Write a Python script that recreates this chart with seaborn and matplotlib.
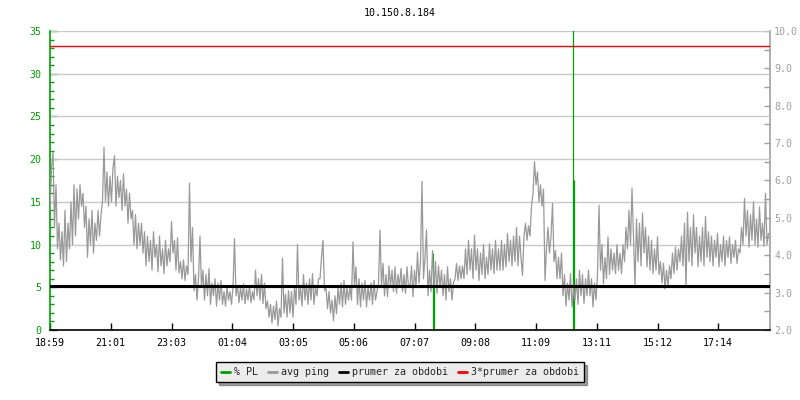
import numpy as np
import pandas as pd
import matplotlib
matplotlib.use("Agg")
import matplotlib.pyplot as plt
from matplotlib.lines import Line2D
from matplotlib.ticker import MultipleLocator, FormatStrFormatter, FixedLocator
import seaborn as sns

# ---------------- data ----------------
title = "10.150.8.184"
tick_labels = ["18:59", "21:01", "23:03", "01:04", "03:05", "05:06",
               "07:07", "09:08", "11:09", "13:11", "15:12", "17:14"]
tick_step_min = 121.5
sample_step_min = 3
total_min = 1440

# avg ping, on the left (0-35) scale, one sample every 3 minutes
avg_ping = [
    14, 19, 20.8, 12, 17, 9.5, 12.5, 8.2, 11.5, 7.5, 14, 8, 12.5, 9.5, 15, 10, 17, 11, 16.5, 13,
    17, 14.5, 16, 12, 14.5, 8.5, 13, 10, 14, 9, 12.5, 10.5, 14, 11, 13.5, 15, 21.4, 15, 18.5, 14.5,
    18, 15, 19, 20.4, 14.5, 18, 15.5, 17.5, 14, 18.3, 14.5, 16.5, 12.5, 16, 13, 14, 10, 13.5, 9.5, 12.5,
    10, 12.5, 9, 11.5, 7.5, 11, 8, 10.5, 7, 11.5, 8.5, 10, 6.8, 11, 7.5, 9.5, 6.6, 10.5, 7.5, 9.5,
    8, 12.7, 9, 10.5, 7, 10.8, 6.7, 8, 6, 8.2, 5.8, 7.5, 6.5, 17.2, 8, 12, 4.6, 6.5, 3.5, 6,
    11, 5, 7, 3.5, 6.5, 4, 7.2, 3, 5.5, 4, 6, 2.8, 5.5, 3.5, 5.8, 3, 4.5, 2.8, 5, 3.5,
    4.5, 3, 5, 10.7, 4, 5.2, 3.2, 5, 3.5, 5.4, 3.1, 4.8, 3.5, 5.2, 3.2, 4.5, 3.5, 7, 4, 6,
    3.5, 6.5, 3.1, 5.5, 2.5, 3.4, 1.5, 3, 0.8, 2.8, 1.2, 3.4, 0.5, 2.5, 1.5, 8.4, 2, 4.2, 1.5, 4.6,
    2, 4.5, 1.5, 5, 3, 10, 3.5, 5, 2.8, 6.5, 3.5, 5.5, 3, 6, 3.5, 6.6, 3, 5, 4, 6,
    6, 8.5, 10.5, 4.6, 5, 2.5, 4.5, 2, 3.5, 1.1, 4, 1.9, 5, 3, 5.5, 2.7, 5.8, 3, 5, 3.5,
    5, 3.5, 10.3, 5, 7.4, 3, 6, 2.7, 5.5, 3.5, 5.8, 2.7, 5, 3.5, 5.5, 3, 5.8, 3.5, 4.5, 5.5,
    11.7, 5, 7.8, 4, 6.5, 3.9, 7.5, 5, 7, 4.5, 7.4, 4.3, 6.5, 5, 7.2, 4.5, 6.5, 4.3, 7.4, 5,
    5, 7.5, 3.9, 7, 5, 9.1, 5.5, 8, 17.4, 6, 8.5, 11.7, 4, 7, 4.5, 9.3, 5, 8, 4.3, 7.5,
    5, 7, 4, 6.5, 3.5, 7.4, 4.5, 6, 3.5, 5.5, 6, 7.8, 5.8, 7.5, 6, 7.5, 6, 9.5, 6.5, 10.5,
    7, 9.5, 6, 11.1, 7, 9.5, 5.8, 9, 6.5, 10, 6, 8.5, 6.5, 10.1, 7, 9.5, 6.6, 10.5, 7, 9.5,
    7, 10.5, 7, 10, 7.4, 11.3, 8, 10.5, 7.5, 11, 8, 12, 7.5, 11, 8.5, 6.4, 11, 12.5, 10.5, 12.2,
    11, 14.5, 16, 19.7, 17, 18.5, 15, 17, 14.5, 16.5, 5.8, 9.5, 12, 9, 11, 14.8, 8, 9.3, 6, 8.5,
    6, 9, 4, 6.5, 2.8, 5.5, 3.5, 6.6, 2.7, 5, 3.5, 6, 3, 7, 4, 6.5, 3.1, 6, 4, 7,
    4, 6, 2.7, 5.5, 3.5, 6.5, 14.6, 7, 10, 5.4, 8.5, 6, 10.9, 6.5, 9.5, 7, 9, 6.6, 10, 7,
    9, 6.6, 10, 8, 12, 9.5, 14, 10, 16.6, 11, 5.2, 13, 8, 12.5, 7.5, 13.7, 9, 12, 7.4, 11,
    7, 10.5, 6.6, 9.5, 7, 10.9, 6.5, 8, 5.5, 7.8, 4.8, 7, 5.1, 7.5, 6, 9, 6.6, 9.7, 7, 9.5,
    8, 11, 7.5, 12.5, 5, 13.8, 8, 12, 7.5, 13.5, 9, 12, 7.4, 11, 8, 12, 7.5, 13.3, 8.5, 11.5,
    8, 11, 7.5, 10.5, 8.5, 11.3, 7.4, 10, 8, 11, 7.5, 10.5, 8.5, 10.9, 7.8, 10, 8.5, 10.5, 7.8, 9.5,
    9, 12, 10, 15.4, 11, 14, 9.7, 13.5, 10.5, 15, 10, 13, 9.7, 14.4, 10.5, 12.5, 9.8, 16, 10, 11.3,
]

# packet loss spikes (minutes from start, % PL)
pl_minutes = [766, 768, 1045, 1047]
pl_values = [9, 6, 100, 17.5]

prumer = 5.15      # average line
prumer3 = 33.3     # 3 * average line

right_ticks = [2.0, 3.0, 4.0, 5.0, 6.0, 7.0, 8.0, 9.0, 10.0]

legend_labels = ["% PL", "avg ping", "prumer za obdobi", "3*prumer za obdobi"]

# ---------------- style ----------------
GREEN = "#00a000"
GRAY = "#999999"
GRID = "#c8c8c8"
RAXIS = "#a0a0a0"
RED = "#ff0000"

sns.set_style("white")
plt.rcParams["font.family"] = ["DejaVu Sans Mono"]
FS = 7.2

df = pd.DataFrame({
    "minute": np.arange(len(avg_ping)) * sample_step_min,
    "ping": avg_ping,
})

fig = plt.figure(figsize=(8, 4), dpi=100)
ax = fig.add_axes([50 / 800, 1 - 330 / 400, 720 / 800, 299 / 400])

ax.set_xlim(0, total_min)
ax.set_ylim(0, 35)

# grid
for y in range(5, 36, 5):
    ax.axhline(y, color=GRID, lw=1, zorder=1)

# packet loss
ax.vlines(pl_minutes, 0, pl_values, color=GREEN, lw=0.9, zorder=2)

# avg ping
sns.lineplot(data=df, x="minute", y="ping", ax=ax, color=GRAY, lw=0.9,
             zorder=3, legend=False)

ax.axhline(prumer, color="black", lw=2.2, zorder=4)
ax.axhline(prumer3, color=RED, lw=1, zorder=4)

ax.set_xlabel("")
ax.set_ylabel("")

# spines
ax.spines["top"].set_visible(False)
ax.spines["right"].set_visible(False)
ax.spines["left"].set_color(GREEN)
ax.spines["left"].set_linewidth(1.2)
ax.spines["bottom"].set_color("black")
ax.spines["bottom"].set_linewidth(1.2)

# x ticks
ax.set_xticks([k * tick_step_min for k in range(len(tick_labels))])
ax.set_xticklabels(tick_labels, fontsize=FS)
ax.tick_params(axis="x", direction="in", length=5, width=1, color="black",
               pad=6, labelcolor="black", bottom=True)

# left y ticks
ax.yaxis.set_major_locator(MultipleLocator(5))
ax.yaxis.set_minor_locator(MultipleLocator(1))
ax.tick_params(axis="y", which="major", direction="in", length=5, width=1,
               color=GREEN, labelcolor=GREEN, labelsize=FS, pad=6, left=True)
ax.tick_params(axis="y", which="minor", direction="in", length=3, width=1,
               color=GREEN, left=True)

# right secondary axis (ms)
sec = ax.secondary_yaxis("right", functions=(lambda v: 2 + v * 8 / 35,
                                             lambda m: (m - 2) * 35 / 8))
sec.spines["right"].set_color(RAXIS)
sec.spines["right"].set_linewidth(1.2)
sec.yaxis.set_major_locator(FixedLocator(right_ticks))
sec.yaxis.set_minor_locator(FixedLocator([t + 0.5 for t in right_ticks[:-1]]))
sec.yaxis.set_major_formatter(FormatStrFormatter("%.1f"))
sec.yaxis.get_offset_text().set_visible(False)
sec.tick_params(axis="y", which="major", direction="in", length=4, width=1,
                color=RAXIS, labelcolor=RAXIS, labelsize=FS, pad=3)
sec.tick_params(axis="y", which="minor", direction="in", length=4, width=1,
                color=RAXIS)

# title
fig.text(0.5, 1 - 13 / 400, title, ha="center", va="center", fontsize=FS,
         color="black")

# legend
handles = [Line2D([], [], color=GREEN, lw=2),
           Line2D([], [], color=GRAY, lw=2),
           Line2D([], [], color="black", lw=2),
           Line2D([], [], color=RED, lw=2)]
leg = fig.legend(handles, legend_labels, loc="center",
                 bbox_to_anchor=(0.5, 1 - 372 / 400), ncol=4,
                 fontsize=FS, frameon=True, fancybox=False, shadow=True,
                 handlelength=0.85, handletextpad=0.45, columnspacing=1.0,
                 borderpad=0.5, borderaxespad=0)
leg.get_frame().set_facecolor("#ececec")
leg.get_frame().set_edgecolor("black")
leg.get_frame().set_linewidth(1)
leg.get_frame().set_alpha(1)

fig.savefig("out.png", dpi=100, facecolor="white")
